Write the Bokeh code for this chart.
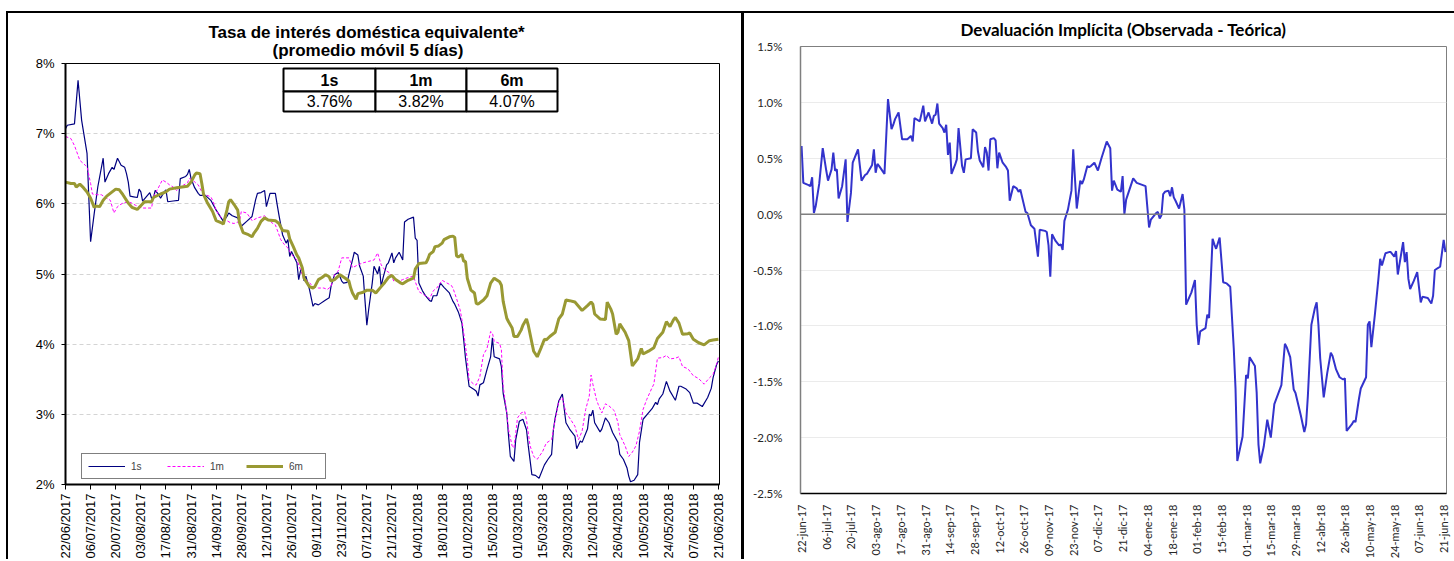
import math
import pandas as pd
from bokeh.plotting import figure
from bokeh.models import (Range1d, FixedTicker, Legend, LegendItem, BoxAnnotation, Label,
                          Span, PrintfTickFormatter, Title)
from bokeh.layouts import row
from bokeh.embed import file_html
from bokeh.resources import INLINE

# ---------------- DATA ----------------
inicio = pd.Timestamp("2017-06-22")          # day 0 of both charts
dias_ticks = list(range(0, 365, 14))          # one label every 14 days
meses_es = ["ene", "feb", "mar", "abr", "may", "jun", "jul", "ago", "sep", "oct", "nov", "dic"]

# Left chart: "Tasa de interés doméstica equivalente" (days since 22/06/2017, %)
dias_1s = [0, 1, 5, 7, 9, 12, 14, 16, 18, 21, 22, 24, 26, 27, 29, 31, 33, 34, 35, 36, 38, 40, 41, 42, 43,
           45, 47, 48, 49, 50, 52, 53, 55, 56, 57, 60, 63, 64, 67, 68, 69, 70, 72, 74, 75, 78, 81, 84, 88,
           90, 91, 93, 96, 98, 101, 104, 106, 107, 109, 111, 112, 114, 117, 118, 119, 121, 123, 124, 125,
           126, 129, 130, 131, 132, 133, 134, 136, 138, 139, 141, 145, 147, 148, 150, 152, 154, 155, 157,
           158, 160, 161, 163, 164, 166, 167, 168, 169, 171, 172, 174, 175, 176, 177, 179, 180, 182, 183,
           184, 186, 188, 189, 191, 194, 195, 196, 197, 199, 201, 203, 204, 205, 207, 209, 211, 214, 216,
           217, 219, 221, 222, 223, 225, 228, 229, 230, 231, 233, 235, 237, 238, 239, 242, 243, 244, 246,
           247, 248, 250, 251, 253, 255, 257, 258, 260, 262, 264, 267, 269, 271, 272, 273, 275, 277, 279,
           281, 284, 285, 287, 288, 291, 292, 293, 294, 295, 298, 299, 301, 303, 305, 308, 309, 311, 313,
           314, 315, 317, 319, 320, 322, 325, 327, 329, 330, 331, 333, 335, 337, 340, 342, 343, 346, 348,
           350, 352, 355, 358, 360, 361, 363, 364]
tasa_1s = [7.07, 7.12, 7.14, 7.76, 7.19, 6.72, 5.46, 5.86, 6.24, 6.65, 6.31, 6.43, 6.52, 6.49, 6.65, 6.55,
           6.52, 6.43, 6.31, 6.11, 6.10, 6.09, 6.21, 6.17, 6.04, 6.10, 6.16, 6.08, 6.08, 6.19, 6.13, 6.08,
           6.17, 6.20, 6.03, 6.04, 6.05, 6.36, 6.39, 6.42, 6.49, 6.36, 6.23, 6.15, 6.12, 6.12, 6.05, 5.91,
           5.75, 5.82, 5.87, 5.83, 5.80, 5.68, 5.75, 5.82, 6.06, 6.15, 6.16, 6.19, 5.96, 6.15, 6.15, 5.99,
           5.84, 5.56, 5.44, 5.49, 5.25, 5.32, 5.16, 4.92, 5.04, 5.11, 4.90, 4.97, 4.78, 4.54, 4.58, 4.56,
           4.63, 4.66, 4.82, 4.99, 5.02, 4.90, 4.87, 4.88, 4.99, 5.20, 5.31, 5.27, 5.11, 4.97, 4.61, 4.27,
           4.49, 4.87, 5.11, 5.00, 5.11, 4.82, 4.94, 5.13, 5.16, 5.30, 5.16, 5.23, 5.31, 5.20, 5.74, 5.78,
           5.81, 5.51, 5.48, 4.87, 4.76, 4.68, 4.62, 4.61, 4.69, 4.69, 4.87, 4.81, 4.73, 4.61, 4.57, 4.46,
           4.30, 4.06, 3.80, 3.40, 3.35, 3.33, 3.26, 3.42, 3.45, 3.64, 3.82, 4.09, 3.82, 3.79, 3.68, 3.30,
           3.02, 2.69, 2.40, 2.33, 2.64, 2.90, 2.93, 2.78, 2.55, 2.14, 2.13, 2.09, 2.28, 2.36, 2.43, 2.78,
           2.95, 3.19, 3.29, 2.88, 2.79, 2.69, 2.51, 2.62, 2.60, 2.79, 3.00, 2.98, 3.06, 2.88, 2.75, 2.79,
           2.95, 2.88, 2.74, 2.60, 2.43, 2.36, 2.24, 2.12, 2.04, 2.06, 2.14, 2.60, 2.93, 3.02, 3.08, 3.17,
           3.14, 3.22, 3.29, 3.47, 3.33, 3.20, 3.40, 3.40, 3.36, 3.31, 3.16, 3.16, 3.11, 3.24, 3.37, 3.52,
           3.71, 3.76]

dias_1m = [0, 3, 5, 7, 8, 11, 12, 14, 15, 17, 20, 23, 25, 27, 29, 30, 32, 35, 37, 39, 41, 43, 45, 48, 49,
           52, 54, 56, 58, 60, 62, 63, 66, 68, 69, 71, 72, 74, 76, 78, 81, 82, 84, 86, 88, 90, 92, 94, 97,
           98, 101, 103, 104, 107, 110, 111, 113, 115, 117, 118, 120, 122, 124, 125, 127, 129, 131, 133,
           135, 137, 138, 141, 144, 146, 148, 150, 152, 154, 158, 160, 163, 166, 169, 172, 174, 176, 178,
           181, 183, 186, 188, 191, 194, 195, 197, 200, 203, 205, 207, 210, 212, 215, 216, 218, 220, 221,
           222, 224, 225, 228, 229, 231, 233, 235, 237, 238, 239, 242, 243, 244, 246, 247, 249, 250, 252,
           254, 256, 257, 259, 261, 263, 266, 268, 271, 273, 275, 277, 279, 281, 284, 286, 288, 290, 292,
           293, 294, 296, 297, 299, 301, 303, 306, 308, 309, 312, 314, 316, 318, 320, 322, 324, 327, 328,
           330, 333, 335, 337, 340, 342, 344, 347, 350, 353, 356, 359, 361, 363, 364]
tasa_1m = [6.96, 6.93, 6.83, 6.69, 6.62, 6.55, 6.53, 6.29, 6.14, 6.13, 6.13, 6.08, 6.05, 5.87, 5.96, 5.98,
           6.01, 6.03, 6.01, 5.98, 5.96, 5.94, 5.94, 5.94, 6.10, 6.24, 6.34, 6.31, 6.27, 6.24, 6.19, 6.23,
           6.27, 6.30, 6.36, 6.34, 6.31, 6.27, 6.17, 6.13, 6.10, 6.05, 5.91, 5.82, 5.79, 5.76, 5.73, 5.72,
           5.75, 5.89, 5.87, 5.80, 5.76, 5.80, 5.82, 5.83, 5.78, 5.73, 5.70, 5.63, 5.49, 5.42, 5.37, 5.32,
           5.25, 5.20, 5.06, 4.92, 4.90, 4.85, 4.82, 4.80, 4.80, 4.78, 4.82, 4.99, 5.04, 5.23, 5.23, 5.09,
           5.13, 5.16, 5.18, 5.20, 5.30, 5.13, 5.06, 5.01, 4.90, 4.90, 4.92, 4.95, 4.97, 4.89, 4.75, 4.70,
           4.65, 4.76, 4.80, 4.91, 4.88, 4.84, 4.80, 4.65, 4.49, 4.35, 4.16, 3.78, 3.49, 3.42, 3.42, 3.54,
           3.85, 3.94, 4.18, 4.16, 4.04, 4.01, 3.92, 3.40, 3.02, 2.78, 2.55, 2.52, 2.95, 3.02, 3.04, 2.92,
           2.55, 2.40, 2.36, 2.47, 2.59, 2.64, 2.92, 3.19, 3.24, 3.02, 2.95, 2.83, 2.64, 2.76, 3.07, 3.26,
           3.56, 3.43, 3.21, 3.14, 3.02, 3.15, 3.12, 3.05, 2.88, 2.71, 2.55, 2.40, 2.46, 2.55, 2.76, 3.07,
           3.21, 3.38, 3.43, 3.80, 3.81, 3.84, 3.79, 3.80, 3.82, 3.68, 3.65, 3.55, 3.51, 3.43, 3.52, 3.57,
           3.71, 3.82]

dias_6m = [0, 3, 5, 6, 8, 10, 12, 14, 16, 17, 19, 21, 23, 26, 28, 30, 32, 35, 37, 40, 43, 44, 48, 49, 53,
           56, 58, 62, 65, 68, 70, 72, 73, 75, 76, 77, 79, 82, 84, 87, 88, 90, 91, 92, 94, 96, 97, 99, 102,
           104, 105, 107, 109, 111, 113, 117, 119, 121, 124, 125, 127, 129, 130, 132, 133, 136, 138, 139,
           141, 143, 145, 147, 148, 150, 153, 156, 158, 159, 160, 162, 163, 166, 168, 171, 173, 176, 178,
           180, 182, 184, 187, 188, 191, 194, 195, 197, 201, 202, 203, 205, 206, 208, 210, 211, 214, 216,
           217, 218, 219, 221, 222, 223, 224, 226, 228, 229, 230, 233, 235, 237, 239, 242, 243, 244, 246,
           247, 249, 250, 252, 254, 255, 257, 258, 260, 261, 263, 265, 267, 268, 270, 273, 275, 277, 279,
           281, 284, 286, 288, 291, 293, 294, 295, 298, 301, 302, 304, 305, 307, 308, 309, 312, 314, 316,
           319, 321, 322, 325, 328, 330, 333, 335, 337, 339, 340, 342, 344, 347, 348, 350, 353, 356, 359,
           361, 364]
tasa_6m = [6.31, 6.29, 6.29, 6.24, 6.28, 6.23, 6.17, 6.08, 5.95, 5.97, 5.96, 6.05, 6.11, 6.17, 6.21, 6.20,
           6.13, 6.01, 5.95, 5.92, 6.00, 6.03, 6.03, 6.09, 6.14, 6.17, 6.21, 6.23, 6.24, 6.25, 6.31, 6.41,
           6.44, 6.43, 6.29, 6.13, 6.02, 5.89, 5.76, 5.73, 5.71, 5.91, 6.03, 6.06, 5.99, 5.91, 5.73, 5.59,
           5.56, 5.53, 5.58, 5.65, 5.75, 5.80, 5.77, 5.76, 5.72, 5.62, 5.61, 5.50, 5.39, 5.27, 5.23, 5.09,
           4.94, 4.82, 4.80, 4.82, 4.92, 4.95, 4.99, 4.96, 4.90, 4.92, 4.99, 4.94, 4.90, 4.80, 4.73, 4.64,
           4.72, 4.74, 4.77, 4.77, 4.73, 4.82, 4.88, 4.95, 4.98, 4.92, 4.87, 4.86, 4.91, 4.94, 5.07, 5.15,
           5.16, 5.21, 5.28, 5.32, 5.39, 5.40, 5.44, 5.49, 5.53, 5.54, 5.52, 5.26, 5.24, 5.28, 5.18, 5.18,
           4.94, 4.77, 4.73, 4.58, 4.57, 4.63, 4.69, 4.87, 4.94, 4.89, 4.84, 4.61, 4.37, 4.32, 4.23, 4.11,
           4.11, 4.20, 4.27, 4.36, 4.27, 4.02, 3.90, 3.82, 3.94, 4.07, 4.06, 4.11, 4.17, 4.36, 4.43, 4.63,
           4.62, 4.60, 4.54, 4.48, 4.55, 4.60, 4.57, 4.43, 4.36, 4.35, 4.60, 4.50, 4.43, 4.14, 4.17, 4.29,
           4.17, 4.05, 3.69, 3.79, 3.94, 3.86, 3.90, 3.95, 4.08, 4.17, 4.32, 4.25, 4.35, 4.38, 4.30, 4.14,
           4.15, 4.16, 4.07, 4.02, 3.99, 4.05, 4.06, 4.07]

tabla_plazos = ["1s", "1m", "6m"]
tabla_valores = ["3.76%", "3.82%", "4.07%"]

# Right chart: "Devaluación Implícita (Observada - Teórica)" (days since 22-jun-17, %)
dias_dev = [0, 1, 4, 5, 6, 7, 8, 10, 12, 14, 15, 17, 18, 19, 20, 21, 23, 25, 26, 28, 29, 32, 34, 36, 37,
            40, 41, 42, 43, 44, 47, 49, 51, 52, 53, 55, 57, 60, 62, 63, 64, 67, 69, 70, 72, 74, 75, 76, 77,
            78, 80, 81, 82, 83, 84, 85, 87, 88, 89, 91, 92, 93, 96, 97, 99, 100, 101, 103, 104, 105, 106,
            107, 109, 110, 111, 112, 114, 116, 117, 118, 120, 122, 123, 124, 127, 128, 130, 132, 134, 135,
            138, 139, 140, 141, 142, 144, 146, 147, 148, 149, 150, 151, 153, 154, 156, 158, 159, 160, 162,
            163, 164, 166, 168, 170, 173, 175, 176, 177, 179, 181, 182, 183, 184, 188, 190, 195, 197, 198,
            201, 202, 203, 204, 205, 206, 208, 209, 210, 211, 212, 214, 216, 217, 218, 221, 223, 224, 225,
            226, 229, 230, 231, 233, 234, 235, 237, 239, 241, 243, 245, 246, 247, 250, 252, 253, 254, 257,
            258, 259, 260, 262, 264, 266, 268, 272, 274, 275, 277, 279, 280, 283, 285, 286, 287, 289, 291,
            292, 293, 294, 296, 298, 300, 301, 303, 305, 307, 308, 309, 312, 313, 314, 316, 317, 320, 321,
            322, 323, 325, 327, 328, 329, 331, 333, 334, 336, 337, 338, 341, 342, 343, 344, 345, 347, 349,
            351, 352, 355, 357, 358, 359, 362, 364, 365]
dev = [0.61, 0.28, 0.26, 0.25, 0.33, 0.01, 0.07, 0.27, 0.59, 0.39, 0.30, 0.40, 0.55, 0.39, 0.40, 0.14, 0.25,
       0.49, -0.07, 0.19, 0.46, 0.58, 0.30, 0.35, 0.36, 0.44, 0.58, 0.37, 0.45, 0.43, 0.36, 1.03, 0.76, 0.80,
       0.85, 0.91, 0.67, 0.67, 0.70, 0.65, 0.86, 0.83, 0.97, 0.83, 0.91, 0.81, 0.88, 0.89, 0.99, 0.81, 0.77,
       0.73, 0.80, 0.53, 0.64, 0.36, 0.44, 0.49, 0.77, 0.43, 0.37, 0.49, 0.50, 0.76, 0.73, 0.56, 0.48, 0.42,
       0.60, 0.55, 0.39, 0.67, 0.68, 0.66, 0.41, 0.55, 0.46, 0.42, 0.39, 0.12, 0.25, 0.23, 0.20, 0.22, 0.02,
       0.01, -0.10, -0.13, -0.38, -0.14, -0.15, -0.16, -0.28, -0.56, -0.18, -0.24, -0.28, -0.27, -0.32,
       -0.06, -0.01, 0.04, 0.21, 0.58, 0.05, 0.30, 0.27, 0.31, 0.43, 0.42, 0.43, 0.46, 0.39, 0.50, 0.65,
       0.59, 0.21, 0.30, 0.22, 0.20, 0.34, 0.00, 0.13, 0.32, 0.28, 0.25, -0.12, -0.05, 0.01, 0.02, -0.04,
       -0.01, 0.18, 0.20, 0.21, 0.16, 0.24, 0.15, 0.12, 0.05, 0.18, 0.04, -0.81, -0.70, -0.59, -0.99, -1.17,
       -1.05, -1.02, -0.90, -0.93, -0.22, -0.27, -0.31, -0.21, -0.61, -0.62, -0.65, -1.20, -1.56, -2.21,
       -1.99, -1.44, -1.47, -1.28, -1.36, -1.60, -2.06, -2.23, -2.08, -1.84, -2.00, -1.70, -1.53, -1.16,
       -1.19, -1.28, -1.57, -1.60, -1.80, -1.95, -1.88, -1.63, -0.99, -0.84, -0.79, -0.99, -1.29, -1.64,
       -1.42, -1.24, -1.27, -1.39, -1.46, -1.48, -1.47, -1.94, -1.88, -1.85, -1.86, -1.65, -1.56, -1.46,
       -0.99, -0.96, -1.19, -0.90, -0.58, -0.40, -0.46, -0.35, -0.34, -0.34, -0.38, -0.33, -0.54, -0.25,
       -0.43, -0.34, -0.58, -0.67, -0.60, -0.52, -0.79, -0.74, -0.75, -0.80, -0.73, -0.50, -0.47, -0.23,
       -0.34]

# ---------------- LABELS ----------------
fechas_ticks = [inicio + pd.Timedelta(days=d) for d in dias_ticks]
etiquetas_izq = {d: f.strftime("%d/%m/%Y") for d, f in zip(dias_ticks, fechas_ticks)}
etiquetas_der = {d: f"{f.day:02d}-{meses_es[f.month - 1]}-{f.strftime('%y')}" for d, f in zip(dias_ticks, fechas_ticks)}

FONT_L = "Liberation Sans"
FONT_R = "Lato"

# ---------------- LEFT FIGURE ----------------
p1 = figure(width=738, height=548, x_range=Range1d(0, 364.6), y_range=Range1d(2, 8),
            output_backend="svg", toolbar_location=None,
            min_border_left=57, min_border_right=27, min_border_top=50, min_border_bottom=77)
p1.frame_align = False
p1.styles = {"border-top": "2px solid black", "border-left": "2px solid black",
             "border-right": "3px solid black", "margin-top": "11px", "margin-left": "6px"}
p1.background_fill_color = "white"
p1.border_fill_color = "white"
p1.outline_line_color = "black"
p1.outline_line_width = 1

p1.xgrid.visible = False
p1.ygrid.grid_line_color = "#D4D4D4"
p1.ygrid.grid_line_dash = "4 3"
p1.ygrid.ticker = FixedTicker(ticks=[2, 3, 4, 5, 6, 7, 8])

p1.yaxis.ticker = FixedTicker(ticks=[2, 3, 4, 5, 6, 7, 8])
p1.yaxis.formatter = PrintfTickFormatter(format="%d%%")
p1.yaxis.major_label_text_font = FONT_L
p1.yaxis.major_label_text_font_size = "13px"
p1.yaxis.major_label_text_color = "black"
p1.yaxis.axis_line_width = 2
p1.yaxis.major_tick_out = 4
p1.yaxis.major_tick_in = 0
p1.yaxis.minor_tick_line_color = None
p1.yaxis.major_label_standoff = 7

p1.xaxis.ticker = FixedTicker(ticks=dias_ticks)
p1.xaxis.major_label_overrides = etiquetas_izq
p1.xaxis.major_label_orientation = math.pi / 2
p1.xaxis.major_label_text_font = FONT_L
p1.xaxis.major_label_text_font_size = "13px"
p1.xaxis.major_label_text_color = "black"
p1.xaxis.axis_line_width = 2
p1.xaxis.major_tick_out = 5
p1.xaxis.major_tick_in = 0
p1.xaxis.minor_tick_line_color = None
p1.xaxis.major_label_standoff = 4

r1 = p1.line(dias_1s, tasa_1s, line_color="#000080", line_width=1.2)
r2 = p1.line(dias_1m, tasa_1m, line_color="#FF00FF", line_width=1, line_dash="3 2")
r3 = p1.line(dias_6m, tasa_6m, line_color="#999933", line_width=3)

legend = Legend(items=[LegendItem(label="1s", renderers=[r1]),
                       LegendItem(label="1m", renderers=[r2]),
                       LegendItem(label="6m", renderers=[r3])],
                orientation="horizontal", location=(16, 5),
                label_text_font=FONT_L, label_text_font_size="10px",
                border_line_color="black", border_line_width=1,
                background_fill_color="white", background_fill_alpha=1,
                padding=6, margin=0, spacing=6, glyph_width=37, glyph_height=12,
                label_width=30, label_height=12, label_standoff=6)
p1.add_layout(legend)

# two-line title (inner line added first, outer line second)
p1.add_layout(Title(text="(promedio móvil 5 días)", align="left", offset=207,
                    vertical_align="bottom", standoff=8, text_font=FONT_L,
                    text_font_size="17px", text_font_style="bold", text_color="black"), "above")
p1.add_layout(Title(text="Tasa de interés doméstica equivalente*", align="left", offset=143,
                    vertical_align="bottom", standoff=-14, text_font=FONT_L,
                    text_font_size="17px", text_font_style="bold", text_color="black"), "above")

# summary table (screen units = pixels from the frame's bottom-left)
col_edges = [218, 310, 401, 492]
row_edges = [416, 393, 373]
for i in range(3):
    for j in range(2):
        p1.add_layout(BoxAnnotation(left=col_edges[i], right=col_edges[i + 1],
                                    top=row_edges[j], bottom=row_edges[j + 1],
                                    left_units="screen", right_units="screen",
                                    top_units="screen", bottom_units="screen",
                                    fill_color="white", fill_alpha=1,
                                    line_color="black", line_width=2, line_alpha=1))
    cx = (col_edges[i] + col_edges[i + 1]) / 2
    p1.add_layout(Label(x=cx, y=(row_edges[0] + row_edges[1]) / 2, x_units="screen", y_units="screen",
                        text=tabla_plazos[i], text_align="center", text_baseline="middle",
                        text_font=FONT_L, text_font_size="16px", text_font_style="bold",
                        text_color="black"))
    p1.add_layout(Label(x=cx, y=(row_edges[1] + row_edges[2]) / 2, x_units="screen", y_units="screen",
                        text=tabla_valores[i], text_align="center", text_baseline="middle",
                        text_font=FONT_L, text_font_size="16px", text_color="black"))

# ---------------- RIGHT FIGURE ----------------
p2 = figure(width=710, height=548, x_range=Range1d(-0.6, 365.6), y_range=Range1d(-2.5, 1.5),
            output_backend="svg", toolbar_location=None,
            min_border_left=56, min_border_right=8, min_border_top=33, min_border_bottom=65)
p2.frame_align = False
p2.styles = {"border-top": "2px solid black", "margin-top": "11px"}
p2.background_fill_color = "white"
p2.border_fill_color = "white"
p2.outline_line_color = "#7F7F7F"
p2.outline_line_width = 1

p2.title.text = "Devaluación Implícita (Observada - Teórica)"
p2.title.align = "center"
p2.title.vertical_align = "top"
p2.title.standoff = 9
p2.title.text_font = FONT_R
p2.title.text_font_size = "17px"
p2.title.text_font_style = "bold"
p2.title.text_color = "black"

yt = [-2.5, -2.0, -1.5, -1.0, -0.5, 0.0, 0.5, 1.0, 1.5]
p2.xgrid.visible = False
p2.ygrid.grid_line_color = "#EBEBEB"
p2.ygrid.grid_line_width = 1
p2.ygrid.ticker = FixedTicker(ticks=yt)

p2.yaxis.ticker = FixedTicker(ticks=yt)
p2.yaxis.formatter = PrintfTickFormatter(format="%.1f%%")
p2.yaxis.major_label_text_font = FONT_R
p2.yaxis.major_label_text_font_size = "11.5px"
p2.yaxis.major_label_text_color = "#262626"
p2.yaxis.axis_line_color = "#7F7F7F"
p2.yaxis.axis_line_width = 1.5
p2.yaxis.major_tick_line_color = None
p2.yaxis.minor_tick_line_color = None
p2.yaxis.major_label_standoff = 12

p2.xaxis.ticker = FixedTicker(ticks=dias_ticks)
p2.xaxis.major_label_overrides = etiquetas_der
p2.xaxis.major_label_orientation = math.pi / 2
p2.xaxis.major_label_text_font = FONT_R
p2.xaxis.major_label_text_font_size = "11px"
p2.xaxis.major_label_text_color = "#262626"
p2.xaxis.axis_line_color = "black"
p2.xaxis.axis_line_width = 1.5
p2.xaxis.major_tick_line_color = None
p2.xaxis.minor_tick_line_color = None
p2.xaxis.major_label_standoff = 5

p2.add_layout(Span(location=0, dimension="width", line_color="#7F7F7F", line_width=1.5))
p2.line(dias_dev, dev, line_color="#3333CC", line_width=2)

layout = row(p1, p2)
open("out.html", "w").write(file_html(layout, INLINE))
